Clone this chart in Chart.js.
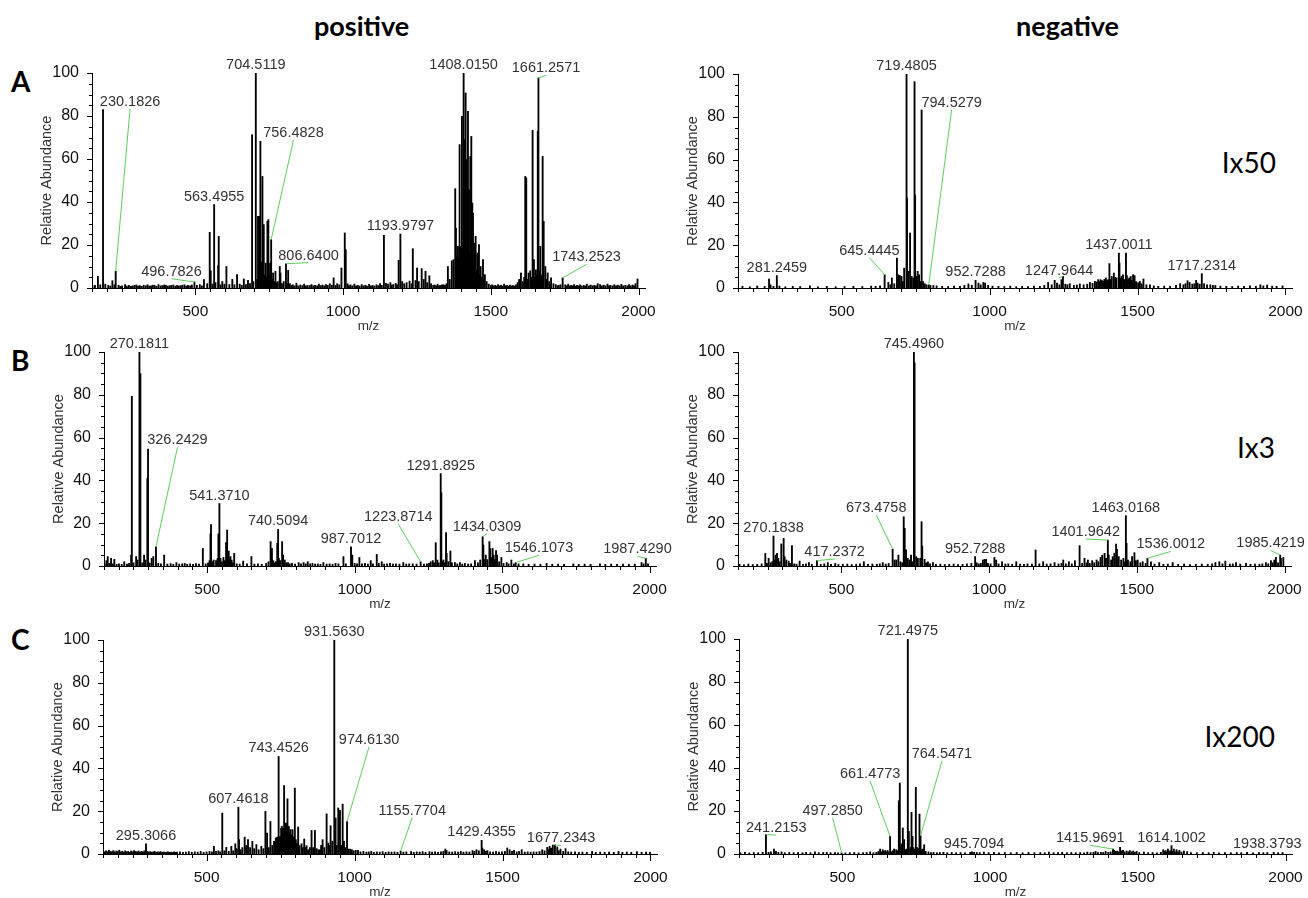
<!DOCTYPE html>
<html>
<head>
<meta charset="utf-8">
<script src="https://cdn.jsdelivr.net/npm/chart.js@4.4.0/dist/chart.umd.min.js"></script>
<style>
  body { margin: 0; background: #fff; width: 1308px; height: 898px; position: relative; overflow: hidden; }
  .box { position: absolute; }
  .head { position: absolute; font-family: Lato, "Open Sans", sans-serif; font-weight: 700; line-height: 1; color: #000; }
  .dil { position: absolute; font-family: Lato, "Open Sans", sans-serif; font-size: 28px; line-height: 1; color: #000; text-align: right; width: 120px; }
</style>
</head>
<body>
<div class="head" style="left:314px;top:12px;font-size:27px;">positive</div>
<div class="head" style="left:1016px;top:12px;font-size:27px;">negative</div>
<div class="head" style="left:11px;top:67px;font-size:28px;">A</div>
<div class="head" style="left:11px;top:346px;font-size:28px;">B</div>
<div class="head" style="left:11px;top:625px;font-size:28px;">C</div>
<div class="dil" style="left:1156px;top:148px;">Ix50</div>
<div class="dil" style="left:1155px;top:433px;">Ix3</div>
<div class="dil" style="left:1155px;top:722px;">Ix200</div>

<script>
// axis ranges and tick labels
const X_MIN = 150, X_MAX = 2022;
const xLabels = [500, 1000, 1500, 2000];
const yLabels = [0, 20, 40, 60, 80, 100];

// peaks: [m/z, relative abundance]
const posA = [
  [152,1.0],[160,1.2],[170,5.4],[178,1.5],[187.3,83],[195,1.8],[205,1.2],[212,0.9],[219,3.4],[226,1.5],[230.1826,7.8],
  [240,1.3],[246,0.8],[252,1.0],[262,1.6],[268,0.9],[275,1.2],[282,0.8],[288,1.0],[294,1.3],[300,1.4],[306,0.9],
  [312,1.1],[318,0.8],[325,1.3],[332,1.0],[338,1.5],[344,0.9],[350,1.0],[356,1.3],[362,1.2],[368,0.8],[375,1.6],
  [382,1.0],[388,1.1],[394,1.4],[400,1.3],[406,0.9],[412,1.0],[418,1.2],[425,1.4],[432,0.9],[438,1.2],[444,1.0],
  [450,1.1],[456,1.3],[463,1.5],[469,0.9],[475,1.2],[482,1.0],[488,1.4],[496.7826,2.8],[505,1.2],[515,1.6],[522,1.0],
  [529,3.9],[540,2.0],[548.5,25.9],[552,8],[558,1.8],[563.4955,38.8],[568,2.5],[577,10.4],[579,24],[585,1.5],[591,3],
  [598,1.8],[605,10],[615,1.6],[625,4],[632,1.5],[641,6.2],[650,1.8],[657,1.2],[664,4.2],[671,1.6],[678,3.6],[685,2],
  [691.9,71.3],[696,3],[704.5119,100],[709,4],[712,33.3],[715.6,33.3],[720,68.2],[723,12],[726.9,51.9],[729,8],
  [731.4,29.5],[735,6],[738,11.6],[741,5],[743.8,31],[747,31.8],[750,6],[752.8,11.6],[756.4828,22.5],[760,4],[763,7],
  [767,3],[771,7.8],[775,2.5],[779,3],[785.6,10],[788,7],[793,2],[799,3],[806.64,11.3],[810,2],[814,8.2],[820,2],
  [826,1.2],[830,1.5],[836,1.0],[842,2.3],[848,1.0],[855,1.4],[862,1.1],[868,1.8],[874,1.0],[880,1.2],[887,1.1],
  [893,1.6],[899,1.0],[905,1.3],[912,1.0],[918,1.8],[924,1.1],[930,1.4],[936,1.0],[942,1.6],[948,1.2],[955,2],
  [962,1.3],[968,4.7],[974,1.2],[980,2],[987,1.5],[994.4,9.3],[1005.7,25.6],[1009,17.8],[1015,2],[1020,1.1],[1025,1.5],
  [1031,1.0],[1038,1.8],[1044,1.0],[1050,1.2],[1056,0.9],[1063,1.6],[1069,1.0],[1075,1.3],[1081,0.9],[1088,1.7],
  [1094,1.0],[1100,1.2],[1106,0.9],[1113,1.5],[1119,1.1],[1125,2],[1131,1.2],[1138.2,24.5],[1145,2.2],[1152,1.8],
  [1160,2.5],[1165,1.4],[1170,1.6],[1178,2.2],[1183,1.5],[1188,12.9],[1193.9797,25.1],[1200,3],[1207,2],[1215,2.5],
  [1225,3.2],[1232,2],[1236,18.3],[1245,3.5],[1250.5,9.3],[1256,3],[1266,9],[1273,4],[1279,7.8],[1285,2.5],[1292,5.7],
  [1298,2],[1305,1.2],[1310,1.4],[1315,1.0],[1320,1.8],[1325,1.1],[1330,1.2],[1335,1.5],[1340,1.5],[1345,1.2],
  [1350,2],[1354.7,10],[1361,4],[1368,12.7],[1374,13.2],[1379.6,46.2],[1382,27.9],[1385,15],[1388.7,19.4],[1391,14],
  [1394.4,66.7],[1397,18],[1399,19.4],[1402.3,79.8],[1404,20],[1406,17],[1408.015,100],[1409.5,22],[1411.4,69],
  [1413,20],[1414.8,90.7],[1417,18],[1419.3,59.7],[1421,22],[1422.7,82.2],[1424,18],[1426,45.7],[1428,16],
  [1430.6,61.2],[1432,17],[1434,70.5],[1436,14],[1437.4,39.5],[1439.7,34.9],[1442,12],[1444,20.9],[1446,10],
  [1448.7,24],[1451,8],[1454.4,16.3],[1457,7],[1460,20.2],[1463,6],[1465.7,10],[1469,5],[1473.6,13.2],[1477,4],
  [1480,6.2],[1486,3],[1493,1.8],[1500,1.2],[1505,1.5],[1510,1.0],[1515,1.2],[1520,0.9],[1525,1.6],[1530,1.0],
  [1535,1.3],[1540,0.9],[1545,1.8],[1550,1.0],[1555,1.2],[1560,0.9],[1565,1.4],[1570,1.0],[1575,1.1],[1580,0.9],
  [1585,1.5],[1591,2.5],[1596,4],[1602,7],[1608,3],[1613,5],[1616.6,51.9],[1620,51.2],[1624,4],[1628,7],[1633.6,8],
  [1637,5],[1641.5,73.3],[1646,13.2],[1649,5],[1652.8,8.5],[1656,6],[1659,72.9],[1661.2571,97.7],[1664,8],
  [1667.5,19.4],[1671,6],[1675.5,61.2],[1679,31],[1684.6,10],[1688,4],[1692.5,7],[1698,3],[1704,4.7],[1712,2],
  [1720,1.6],[1726,1.0],[1730,1.2],[1736,1.5],[1743.2523,4.7],[1752,1.5],[1758,1.0],[1762,1.8],[1768,1.0],[1772,1.2],
  [1778,1.0],[1782,1.6],[1788,0.9],[1792,1.3],[1798,1.0],[1802,1.5],[1808,1.0],[1815,1.2],[1820,0.9],[1825,1.8],
  [1832,1.0],[1838,1.4],[1844,1.0],[1850,1.2],[1856,1.0],[1862,2],[1870,1.6],[1876,1.0],[1882,1.3],[1888,1.0],
  [1895,1.8],[1900,1.0],[1905,1.2],[1912,1.0],[1918,1.5],[1924,1.0],[1930,1.3],[1936,1.0],[1942,1.7],[1948,1.0],
  [1955,1.2],[1962,1.0],[1968,1.6],[1974,1.0],[1980,1.4],[1985,1.0],[1990,2],[1996.6,4.2]
];
const negA = [
  [165,0.8],[190,0.6],[215,0.9],[240,0.7],[255,4.2],[260,1.5],[270,0.8],[281.2459,5.8],[290,0.9],[310,0.6],[335,0.8],
  [360,0.7],[393,1],[420,0.6],[450,0.8],[480,0.6],[510,0.7],[540,0.8],[570,0.7],[600,0.9],[615,0.8],[630,1],
  [645.4445,6.2],[658,2.6],[665,1.5],[670,4.7],[678,2],[687,14],[691.5,6.2],[697,5.8],[702.5,5.4],[707,3],[711.5,9.3],
  [719.4805,100],[721,42],[726,7.8],[731.5,25.7],[737,5.4],[742.5,4.7],[746.5,96.4],[748.5,43.5],[754,5.4],[757,7.8],
  [762,6.2],[766,3],[770.5,83.2],[775.6,3],[781,2],[787,1.5],[794.5279,1.5],[800,1.2],[810,1.2],[821,1],[840,0.8],
  [860,0.7],[880,0.9],[900,0.8],[915,1.2],[928.6,1.9],[940,1.3],[952.7288,3.6],[962.5,2.3],[970,1.5],[979,2.6],
  [985,2.3],[995,1.2],[1010,0.9],[1030,0.8],[1050,0.7],[1070,0.9],[1090,0.6],[1110,0.8],[1130,0.7],[1150,0.9],
  [1170,0.8],[1185,1.2],[1198,2.6],[1210,1.5],[1220,3.6],[1228,2.3],[1236,1.5],[1243,3.9],[1247.9644,5.4],[1256,1.8],
  [1263,1.5],[1271,2],[1285,1.2],[1295,1.4],[1305,1.9],[1318,1.5],[1330,1.8],[1339,2.6],[1348,2.2],[1356,3.1],
  [1362,2.8],[1367,3.9],[1371,3],[1375,3.9],[1380,3.5],[1384,3.1],[1388,4],[1393,4.7],[1397,3.5],[1401,3.9],
  [1405,11.4],[1409,4],[1413,5.4],[1420,7],[1425,5],[1429,4.7],[1437.0011,16.3],[1439,11.7],[1442,4.5],[1446,5.4],
  [1451,6.2],[1455,4],[1461,16.3],[1464,5.8],[1468,4],[1472,4.7],[1477,5.4],[1481,3.5],[1485,6.2],[1490,5.8],[1495,3],
  [1502,2.5],[1508,3.1],[1514,2],[1520,4.2],[1530,1.5],[1542,1.5],[1555,1],[1570,0.8],[1590,0.9],[1610,0.8],
  [1630,1.2],[1644,2],[1655,1.5],[1662,2],[1669,3.4],[1676,2.6],[1685,1.8],[1692,2],[1698,3.6],[1703,2.3],[1710,1.8],
  [1717.2314,6.7],[1725,2],[1735,1.5],[1746,1.5],[1755,1.2],[1763,1.2],[1780,0.9],[1800,0.8],[1820,0.7],[1840,0.9],
  [1860,0.8],[1880,1],[1900,0.8],[1915,1.5],[1925,1],[1938,1.4],[1955,0.9],[1970,0.8],[1990,1]
];
const posB = [
  [152,1.0],[158.2,2.5],[162.6,4.4],[168,1.2],[173.9,3.6],[180,1.0],[185,3.1],[193,0.8],[200.7,1.0],[210,0.8],
  [218.7,2.0],[228,0.9],[235,1.2],[242,5.1],[244.4,79.3],[250,1.5],[259,4.4],[263.5,2.8],[270.1811,100],[273.5,89.9],
  [280,1.5],[285.9,5.1],[290.3,2.8],[297,40.9],[299.3,54.6],[305,1.4],[311.6,3.6],[317.2,4.4],[326.2429,9],[334,1.2],
  [343,1.0],[354,5.1],[365,0.9],[376,1.1],[385,0.8],[395.6,1.6],[405,0.9],[415,1.0],[423.6,1.2],[432,0.8],[442,1.0],
  [452,0.8],[462,1.1],[472,0.9],[485.2,8.2],[495,1.0],[503,1.5],[508,2.5],[511,15],[513,19.4],[518,2],[522,2.8],
  [530,2.5],[535,3.5],[538,15],[541.371,29.2],[545,3.6],[550,2],[555,4],[560,2.5],[564,11],[567.6,16.8],[570,4],
  [573,7],[576,3],[578.9,4.4],[583,2.8],[587,1.5],[591.6,5.9],[600,1.0],[610,0.9],[622,2.3],[635,1.0],[649.9,4.4],
  [660,0.9],[672,1.0],[685,0.8],[700,1.2],[708,2],[715,11.4],[719.5,8.2],[724,2.5],[729,1.5],[733,2],[737.5,10.6],
  [740.5094,17.1],[743,3.6],[747,2.5],[754,11.4],[757.5,5.1],[763,2.8],[768,1.5],[774,1.6],[780,1.0],[787.6,1.2],
  [798,0.9],[810,1.6],[818,1.0],[826.8,1.6],[834,1.0],[841,2],[849,1.0],[857,1.2],[866,0.9],[875,1.0],[884,0.8],
  [894,1.6],[905,0.9],[915,1.0],[925,0.8],[935,1.2],[945,1.0],[962,4.4],[970,1.0],[987.7012,9],[992,5.1],[1000,1.2],
  [1008,1.0],[1016,4],[1025,1.0],[1035,1.2],[1045,0.9],[1054.6,2.5],[1062,1.0],[1075,5.4],[1082,1.2],[1091.9,2],
  [1100,0.9],[1110,1.0],[1120,1.2],[1130,0.9],[1140,1.0],[1152,0.9],[1165,1.6],[1175,0.9],[1185,1.0],[1197,1],
  [1210,0.9],[1223.8714,2],[1235,0.9],[1245,1.0],[1252,1.2],[1258,2],[1265,2.5],[1270,1.5],[1275,10.9],[1280.6,2.8],
  [1285,1.5],[1291.8925,43.2],[1294,34.2],[1298,2],[1301,2.8],[1305,1.5],[1310,15.6],[1312,5.9],[1318,2],[1324.7,7],
  [1330,1.5],[1340,1.6],[1348,1.0],[1357,1.6],[1365,0.9],[1374,1.2],[1385,0.9],[1395,1.0],[1408,2.5],[1418,1.5],
  [1425.8,2.8],[1434.0309,13.7],[1436.5,9.8],[1440,3],[1444.5,5.1],[1450,3],[1457,11.4],[1460,8.2],[1464,4],
  [1468,8.2],[1471.5,5.1],[1475,3],[1479.5,7.2],[1483,5.1],[1490,2],[1497.6,4],[1505,1.2],[1515.6,1.6],[1522,1.0],
  [1531.5,2.8],[1540,1.0],[1546.1073,1.6],[1556,1.0],[1572,1],[1590,0.8],[1610,0.9],[1630,0.8],[1651,1.2],[1670,0.8],
  [1690,0.9],[1710,0.8],[1741.6,1],[1760,0.8],[1780,0.9],[1800,0.8],[1832,1],[1850,0.8],[1870,0.9],[1890,0.8],
  [1910,0.9],[1930,0.8],[1950,0.9],[1973,1.6],[1980,1.0],[1987.429,3.6],[1995,1.0]
];
const negB = [
  [155,0.8],[170,0.6],[185,0.9],[200,0.7],[215,0.8],[230,1.0],[242.4,5.9],[248,1.2],[253.7,3.6],[260,1.5],[266,2.0],
  [270.1838,14],[273,2.8],[277.4,5.1],[282,5.9],[286.4,3.6],[291,2.0],[296.6,10.3],[304.5,12.9],[307.8,4.4],
  [313.5,2.8],[321.4,2.3],[326,1.2],[332.6,9.5],[340,1.0],[348,0.9],[358.6,2.3],[370,0.8],[380,1.0],[390,1.6],
  [400,0.8],[417.2372,2.5],[430,0.8],[442,1.0],[454,1.6],[465,0.8],[479,1.2],[490,0.7],[505,0.8],[520,0.9],[535,0.7],
  [550,0.8],[563,1.0],[576,2],[590,0.8],[605,0.9],[620,0.8],[630,1.0],[640,1.6],[650,0.9],[660,1.2],[673.4758,7.9],
  [680,2.8],[686,2.8],[693,5.1],[700,2.0],[706,1.5],[711,23],[714.3,17.6],[718.8,7.5],[724.5,3.6],[730,2.8],
  [735.7,5.1],[740,2.0],[745.496,100],[747.8,94.9],[753.4,4.4],[759,3.6],[767,3.6],[771.4,20.7],[773.7,9.3],
  [781.6,3.1],[787,1.5],[793,2],[800,1.0],[809.8,1.6],[820,0.8],[835,0.9],[850,0.7],[865,0.8],[880,0.9],[895,0.7],
  [910,0.8],[925,1.0],[940,1.2],[952.7288,4.4],[958,1.5],[965,1.0],[972,1.2],[979,2.8],[984.6,3.1],[990,3.1],
  [996,1.2],[1005,1.0],[1018,4],[1024,2.8],[1032,1.0],[1044,2],[1055,0.9],[1065,1.0],[1078,0.8],[1092,2],[1105,0.9],
  [1118,0.8],[1130,1.0],[1145,0.9],[1157.4,7.5],[1170,1.0],[1183,2],[1195,0.9],[1208,1.0],[1221.7,1.6],[1235,1.0],
  [1245,1.2],[1251,2.8],[1260,1.0],[1270,2],[1280,1.0],[1290.5,2.5],[1306.3,9.5],[1315,1.2],[1323,3.6],[1330,1.5],
  [1334.5,2.8],[1341,1.2],[1349,2.5],[1356,1.5],[1364,2.8],[1370,2],[1377.3,4],[1383,5.1],[1391,5.9],[1395.6,3.6],
  [1401.9642,12.1],[1405,5.1],[1413,2.8],[1418.5,4.4],[1424,6],[1429.8,10.3],[1433,7.8],[1439,4.4],[1447,2.8],
  [1454.6,3.6],[1460,2],[1463.0168,23.5],[1465.3,10.6],[1470,2.8],[1478,2],[1484,4.4],[1492,6.2],[1497,2.5],
  [1503,2.8],[1512,1.5],[1520,2],[1530,1.2],[1536.0012,3.6],[1548,2],[1560,0.9],[1576,1.6],[1590,0.8],[1605,0.9],
  [1621.5,1.6],[1640,0.8],[1660,0.9],[1680,0.7],[1700,0.8],[1720,0.9],[1740,0.8],[1755,1.0],[1766,1.6],[1779.4,2],
  [1790,1.0],[1799.7,2.3],[1815,0.9],[1825,1.0],[1836,1.6],[1850,0.9],[1869.7,1.2],[1885,0.8],[1900,0.9],[1915,0.8],
  [1925,1.0],[1937,1.6],[1945,1.0],[1954,2.5],[1960,1.5],[1965.5,2.8],[1971,4],[1978,1.5],[1985.4219,5.1],[1988,3.6],
  [1996,4]
];
const posC = [
  [152,1.2],[156,0.8],[160,1.5],[165,1.0],[170,1.8],[175,1.2],[180,1.0],[185,1.6],[190,0.9],[195,1.4],[200,1.1],
  [205,1.8],[210,1.0],[215,1.3],[220,0.9],[225,1.5],[230,1.0],[235,1.2],[240,0.8],[245,1.4],[250,1.0],[255,1.6],
  [260,1.2],[265,1.0],[270,1.4],[275,0.9],[280,1.2],[285,1.0],[290,1.5],[295.3066,4.8],[300,1.2],[305,0.9],[310,1.1],
  [315,0.8],[320,1.0],[325,1.2],[330,0.8],[335,1.0],[340,0.9],[345,1.1],[350,0.8],[355,1.0],[360,0.7],[365,0.9],
  [370,1.0],[375,0.8],[380,0.9],[385,0.7],[390,1.0],[395,0.8],[400,0.9],[410,1.0],[420,0.8],[430,0.9],[440,1.1],
  [450,0.8],[460,1.0],[470,0.9],[480,1.2],[490,0.8],[500,1.0],[510,1.2],[518,1.0],[524.8,3.6],[532,1.2],[540,1.5],
  [546,1.0],[553,19.1],[560,1.5],[566.6,3.1],[575,1.2],[583.6,3.6],[590,1.5],[597,4.8],[602,2.5],[607.4618,21.9],
  [609.6,6.7],[615,2],[621,3],[628.7,7.9],[634,4],[640,6.7],[647,3],[654.7,5.9],[661,2.5],[668.3,4.4],[676,2],
  [685,3.6],[692,2.5],[698.8,19.9],[704.4,9.8],[710,3],[715.7,15.2],[722,4],[728,5.9],[733.8,7.5],[738.3,7.9],
  [743.4526,45.6],[746,8],[749.6,8.2],[752,12],[754,13],[756.4,9.8],[758,12],[762,32],[764,13],[766.6,14.5],[768,13],
  [770,14.2],[773.4,25.8],[775,11],[778,12.9],[780,10],[783.5,11.4],[786,9],[790.3,11.4],[793,8],[798.2,30.8],
  [801.6,6.7],[805,5],[809.5,12.6],[814,4],[820.8,4.8],[825,3],[829.9,7],[833,3],[837.8,3.9],[843,2],[849,3],
  [854.7,11],[860,3],[866,11],[872,2.5],[878,2],[883,2],[887,4],[892,6.7],[898,3],[905.6,18.7],[911.2,5.1],[915,4],
  [919,13.2],[925,6],[931.563,100],[936,16.8],[940,4],[945,21.5],[950.8,20.4],[955,4],[959.8,23.3],[964.3,5.9],
  [968,3],[974.613,15.2],[979,2.3],[985,2.3],[991,2],[997,1.5],[1004,1.7],[1011.6,1.7],[1020,1.0],[1030,1.2],
  [1040,0.9],[1048,1.0],[1056.5,1.2],[1065,0.8],[1075,1.0],[1085,0.9],[1095,1.1],[1105,0.8],[1115,1.0],[1125,0.9],
  [1135,1.0],[1145,0.8],[1155.7704,1.4],[1165,0.9],[1175,1.0],[1191,1.2],[1200,0.8],[1210,1.0],[1220,0.9],[1230,1.1],
  [1240,0.8],[1253,1.1],[1262,0.9],[1272,1.0],[1282,0.8],[1292,1.0],[1300,1.2],[1306.7,2.3],[1311,1.6],[1320,1.0],
  [1330,0.9],[1340,1.1],[1350,0.9],[1359,1.2],[1368,0.9],[1378,1.0],[1388,0.9],[1398.7,1.6],[1405,1.2],[1412,2],
  [1420,1.5],[1429.4355,6.4],[1432,2.8],[1438,2],[1444,1.2],[1449,1.6],[1458,1.0],[1468,0.9],[1478,1.1],[1488,0.9],
  [1498,1.0],[1508,1.2],[1516,2.8],[1524,2],[1532,1.2],[1539,1.7],[1548,1.0],[1556,1.2],[1564.8,2],[1575,0.9],
  [1585,1.0],[1595,0.9],[1605,1.0],[1615,0.9],[1625,1.2],[1634,2],[1642,1.5],[1651,3.1],[1656,2],[1659,3.6],
  [1663,2.5],[1666,2.8],[1670,4.2],[1677.2343,4.2],[1685,3.3],[1690,1.5],[1696,2.3],[1705,1.2],[1713,2.5],[1722,1.0],
  [1732,0.9],[1745,1.0],[1758,0.8],[1770,0.9],[1785,0.8],[1802.7,1.2],[1815,0.8],[1830,0.9],[1845,0.8],[1860,0.9],
  [1876,0.8],[1892,1.2],[1905,0.8],[1920,0.9],[1935,0.8],[1954,1.1],[1970,0.8],[1985,0.9],[1998,0.8]
];
const negC = [
  [155,0.6],[170,0.8],[185,0.5],[200,0.7],[215,0.6],[230,0.8],[241.2153,9],[250,0.8],[258,1.0],[268.4,2.3],[275,1.2],
  [283,0.8],[294,1],[305,0.6],[320,0.7],[335,0.6],[350,0.7],[365,0.6],[377,0.8],[392,0.6],[407,1],[420,0.6],[435,0.7],
  [447,0.8],[460,0.6],[475,0.7],[485,0.6],[497.285,0.6],[510,0.5],[525,0.6],[540,0.7],[555,0.5],[570,0.6],[582,0.7],
  [594,1],[605,0.6],[615,0.8],[622,1.2],[627.7,2.3],[632,1.0],[636.7,2],[640,1.2],[644.7,1.6],[648,1.0],[652.6,1.6],
  [656,1.0],[661.4773,8.2],[666,1.0],[670,1.5],[675,2.3],[682,2],[687,1.5],[691,24.8],[694.4,33],[699,4.7],[702,3],
  [704.5,12.1],[709,6.7],[713.6,2],[718,2.3],[721.4975,100],[724.9,10.5],[729.4,2],[731,3],[733.9,19.4],[737.3,8.2],
  [740,3],[743,2.3],[748.6,31],[752,3.1],[756,2.5],[761,18.6],[764.5471,8.5],[768,2],[772.4,2.3],[776.8,4.3],
  [782,1.2],[791.5,1],[800,0.7],[808.5,0.8],[820,0.6],[830,0.7],[842,0.8],[855,0.6],[870,0.7],[885,0.6],[900,0.7],
  [915,0.6],[932.8,0.8],[938.5,1],[945.7094,0.8],[955,0.7],[965,0.6],[979,0.9],[995,0.6],[1013,0.8],[1030,0.6],
  [1050,0.7],[1070,0.6],[1090,0.7],[1110,0.6],[1130,0.7],[1150,0.6],[1170,0.7],[1185,0.6],[1199,0.9],[1215,0.6],
  [1230,0.7],[1244,0.8],[1260,0.6],[1275,0.7],[1290,0.6],[1305,0.7],[1318,0.6],[1329,0.9],[1340,0.7],[1350,0.8],
  [1357,1.2],[1365,0.7],[1375,0.8],[1383,0.7],[1391,1.2],[1400,0.8],[1408,1.0],[1415.9691,2.3],[1420,1.7],[1425,1.2],
  [1430,1.4],[1435,1.0],[1440,3.1],[1445,1.5],[1450,1.7],[1455,1.0],[1462,1.4],[1468,1.0],[1473,1.6],[1479,1.0],
  [1484.6,1.4],[1490,0.8],[1496,1.2],[1505,0.7],[1520.6,0.9],[1535,0.6],[1550,0.7],[1565,0.6],[1578,0.8],[1586,2],
  [1590,1.2],[1594,1.6],[1598,1.0],[1602,2.3],[1607,1.2],[1610,1.5],[1614.1002,3.9],[1618,1.2],[1622,2.3],[1626,1.0],
  [1631,2],[1636,1.0],[1641,1.7],[1648,0.9],[1656,1.4],[1667,1.1],[1680,0.7],[1700,0.6],[1720,0.7],[1740,0.6],
  [1757,0.8],[1775,0.6],[1795,0.7],[1815,0.6],[1835,0.7],[1850,0.6],[1870,0.8],[1890,0.6],[1910,0.7],[1925,0.6],
  [1938.3793,0.7],[1960,0.8],[1975,0.6],[1990,0.7]
];

// annotated peaks
const posA_labels = ['230.1826','496.7826','563.4955','704.5119','756.4828','806.6400','1193.9797','1408.0150','1661.2571','1743.2523'];
const negA_labels = ['281.2459','645.4445','719.4805','794.5279','952.7288','1247.9644','1437.0011','1717.2314'];
const posB_labels = ['270.1811','326.2429','541.3710','740.5094','987.7012','1223.8714','1291.8925','1434.0309','1546.1073','1987.4290'];
const negB_labels = ['270.1838','417.2372','673.4758','745.4960','952.7288','1401.9642','1463.0168','1536.0012','1985.4219'];
const posC_labels = ['295.3066','607.4618','743.4526','931.5630','974.6130','1155.7704','1429.4355','1677.2343'];
const negC_labels = ['241.2153','497.2850','661.4773','721.4975','764.5471','945.7094','1415.9691','1614.1002','1938.3793'];

// where each label text sits (m/z centre, abundance of baseline); null = straight above its peak
const posA_at = [[279,84.8],[419,5.7],null,null,[832,70.2],[883,13.2],null,null,[1687,100.3],[1824,12.4]];
const negA_at = [null,[594,15.6],null,[872,84.8],null,[1235,6.2],null,null];
const posB_at = [null,[399,56.8],null,null,null,[1148,21],null,[1449,16.5],[1625,6.4],[1959,5.9]];
const negB_at = [null,[477,4.7],[618,25.3],null,null,[1327,14],null,[1615,8.2],[1953,8.7]];
const posC_at = [null,null,null,null,[1049,51.5],[1195,18.4],null,[1698,5.4]];
const negC_at = [[276,10.2],[467,18.3],[594,35.3],null,[837,44.7],null,[1339,5.4],null,null];

const FONT = '"Liberation Sans", Arial, sans-serif';
const PAD_L = 70, PAD_T = 30, PAD_R = 28, PAD_B = 48;

const tickMarks = {
  id: 'tickMarks',
  afterDraw(chart) {
    const { ctx, chartArea: { left, bottom }, scales: { x, y } } = chart;
    ctx.save();
    ctx.strokeStyle = '#000';
    ctx.lineWidth = 1;
    ctx.beginPath();
    x.ticks.forEach(t => {
      const p = Math.round(x.getPixelForValue(t.value)) + 0.5;
      const len = xLabels.includes(t.value) ? 7 : 4;
      ctx.moveTo(p, bottom);
      ctx.lineTo(p, bottom + len);
    });
    y.ticks.forEach(t => {
      const p = Math.round(y.getPixelForValue(t.value)) + 0.5;
      const len = yLabels.includes(t.value) ? 5 : 3;
      ctx.moveTo(left, p);
      ctx.lineTo(left - len, p);
    });
    ctx.stroke();
    ctx.restore();
  }
};

const peakLabels = {
  id: 'peakLabels',
  afterDatasetsDraw(chart) {
    const { ctx, scales: { x, y } } = chart;
    const info = chart.options.plugins.peakLabels;
    const peaks = info.peaks;
    ctx.save();
    ctx.font = '14.5px ' + FONT;
    ctx.textAlign = 'center';
    ctx.textBaseline = 'alphabetic';
    info.text.forEach((t, i) => {
      const m = parseFloat(t);
      let k = 0;
      peaks.forEach((p, j) => { if (Math.abs(p[0] - m) < Math.abs(peaks[k][0] - m)) k = j; });
      const px = x.getPixelForValue(peaks[k][0]);
      const py = y.getPixelForValue(peaks[k][1]);
      let tx = px, ty = py - 4;
      const at = info.at[i];
      if (at) {
        tx = x.getPixelForValue(at[0]);
        ty = y.getPixelForValue(at[1]);
        ctx.strokeStyle = '#5ccf5c';
        ctx.lineWidth = 1;
        ctx.beginPath();
        ctx.moveTo(tx, ty + 3);
        ctx.lineTo(px, py);
        ctx.stroke();
      }
      ctx.fillStyle = '#333';
      ctx.fillText(t, tx, ty);
    });
    ctx.restore();
  }
};

const panels = [
  { peaks: posA, text: posA_labels, at: posA_at, box: [92, 73, 645, 288] },
  { peaks: negA, text: negA_labels, at: negA_at, box: [738, 74, 1292, 288] },
  { peaks: posB, text: posB_labels, at: posB_at, box: [104, 352, 656, 566] },
  { peaks: negB, text: negB_labels, at: negB_at, box: [738, 352, 1291, 566] },
  { peaks: posC, text: posC_labels, at: posC_at, box: [103, 640, 657, 854] },
  { peaks: negC, text: negC_labels, at: negC_at, box: [739, 639, 1292, 854] }
];

panels.forEach(p => {
  const [L, T, R, B] = p.box;
  const w = R - L + PAD_L + PAD_R, h = B - T + PAD_T + PAD_B;
  const div = document.createElement('div');
  div.className = 'box';
  div.style.left = (L - PAD_L) + 'px';
  div.style.top = (T - PAD_T) + 'px';
  const cv = document.createElement('canvas');
  cv.width = w; cv.height = h;
  cv.style.width = w + 'px'; cv.style.height = h + 'px';
  div.appendChild(cv);
  document.body.appendChild(div);

  new Chart(cv, {
    type: 'bar',
    data: {
      datasets: [{
        data: p.peaks.map(([mz, ab]) => ({ x: mz, y: ab })),
        backgroundColor: '#000',
        borderWidth: 0,
        barThickness: 1.2
      }]
    },
    options: {
      responsive: false,
      animation: false,
      events: [],
      layout: { padding: { top: PAD_T, right: PAD_R, left: 0, bottom: 0 } },
      plugins: {
        legend: { display: false },
        tooltip: { enabled: false },
        peakLabels: { peaks: p.peaks, text: p.text, at: p.at }
      },
      scales: {
        x: {
          type: 'linear', min: X_MIN, max: X_MAX, offset: false,
          grid: { display: false, offset: false },
          border: { display: true, color: '#000', width: 1 },
          ticks: {
            stepSize: 50, includeBounds: false, autoSkip: false, maxRotation: 0, minRotation: 0,
            padding: 6, color: '#111', font: { size: 15.5, family: FONT },
            callback: v => xLabels.includes(v) ? String(v) : ''
          },
          title: { display: true, text: 'm/z', color: '#333', font: { size: 13.5, family: FONT }, padding: { top: 0, bottom: 2 } },
          afterFit: s => { s.height = PAD_B; s.paddingLeft = 0; s.paddingRight = 0; }
        },
        y: {
          min: 0, max: 100,
          grid: { display: false },
          border: { display: true, color: '#000', width: 1 },
          ticks: {
            stepSize: 5, autoSkip: false, padding: 5, color: '#111', font: { size: 16, family: FONT },
            callback: v => yLabels.includes(v) ? String(v) : ''
          },
          title: { display: true, text: 'Relative Abundance', color: '#333', font: { size: 14.5, family: FONT }, padding: { top: 16, bottom: 0 } },
          afterFit: s => { s.width = PAD_L; s.paddingTop = 0; s.paddingBottom = 0; }
        }
      }
    },
    plugins: [tickMarks, peakLabels]
  });
});
</script>
</body>
</html>
